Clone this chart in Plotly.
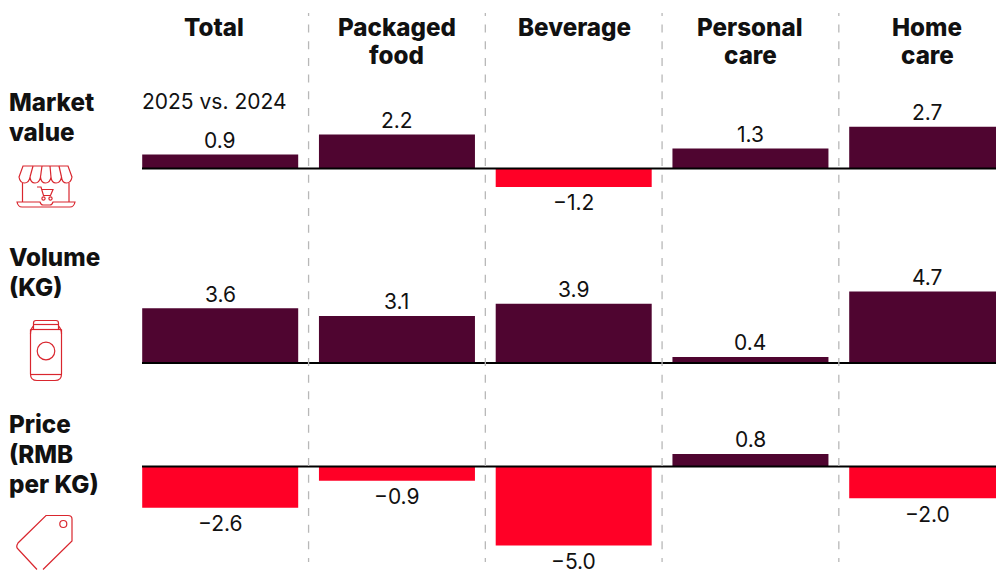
import plotly.graph_objects as go

W, H = 996, 570
categories = [["Total"], ["Packaged", "food"], ["Beverage"], ["Personal", "care"], ["Home", "care"]]
heading_shift = [-6, 0, 0.5, 0, 0]
metrics = [["Market", "value"], ["Volume", "(KG)"], ["Price", "(RMB", "per KG)"]]
market_value = [0.9, 2.2, -1.2, 1.3, 2.7]
volume = [3.6, 3.1, 3.9, 0.4, 4.7]
price = [-2.6, -0.9, -5.0, 0.8, -2.0]
subtitle = "2025 vs. 2024"

DARK, RED, INK = "#4f0530", "#ff0026", "#111111"
ICON = "#d9262e"
FONT = "Inter"
FIRST_CENTER, STEP, BAR_W = 220.2, 176.75, 156.0


def px(x):
    return x / W


def py(y):
    return 1 - y / H


def svg(d):
    """Turn an SVG path written in canvas pixels into paper units."""
    out, is_x = [], True
    for tok in d.split():
        if tok.isalpha():
            out.append(tok)
        else:
            out.append(f"{px(float(tok)) if is_x else py(float(tok)):.5f}")
            is_x = not is_x
    return " ".join(out)


def fmt(v):
    return f"{v:.1f}".replace("-", "\u2212")


# Each row: series, y axis, pixel band, baseline pixel, pixels per unit
rows = [
    (market_value, "y", 90, 232, 168.4, 15.4),
    (volume, "y2", 232, 400, 363, 15.2),
    (price, "y3", 400, 570, 466.6, 15.8),
]

fig = go.Figure()
layout_axes = {}
shapes = []
annotations = []
xs = list(range(len(categories)))
x_lo = (0 - FIRST_CENTER) / STEP
x_hi = (W - FIRST_CENTER) / STEP

for values, yid, top, bottom, base, scale in rows:
    fig.add_trace(go.Bar(
        x=xs, y=values, yaxis=yid, width=BAR_W / STEP,
        marker=dict(color=[DARK if v >= 0 else RED for v in values], line_width=0),
        showlegend=False, hoverinfo="skip",
    ))
    layout_axes["yaxis" + yid[1:]] = dict(
        domain=[py(bottom), py(top)],
        range=[(base - bottom) / scale, (base - top) / scale],
        visible=False, fixedrange=True, anchor="x",
    )
    shapes.append(dict(type="line", xref="x", yref=yid,
                       x0=(142 - FIRST_CENTER) / STEP, x1=x_hi, y0=0, y1=0,
                       line=dict(color="#000000", width=2), layer="above"))
    for x, v in zip(xs, values):
        annotations.append(dict(
            xref="x", yref=yid, x=x, y=v, text=fmt(v), showarrow=False,
            xanchor="center", yanchor="middle", yshift=14 if v >= 0 else -16,
            font=dict(family=FONT, size=21, color=INK),
        ))

# Dashed separators between the categories
dash_line = dict(color="#b8b8b8", width=1.3)
for i in range(4):
    x = px(FIRST_CENTER + STEP * (i + 0.5))
    shapes.append(dict(type="line", xref="paper", yref="paper", x0=x, x1=x,
                       y0=py(13), y1=py(16), line=dash_line))
    shapes.append(dict(type="line", xref="paper", yref="paper", x0=x, x1=x,
                       y0=py(24.6), y1=py(562),
                       line=dict(dash_line, dash="8px,8.67px")))

icon_line = dict(color=ICON, width=1.2)
icon_paths = [
    # Shop: awning
    "M 23 166 L 68 166 L 72 177 Q 71 183 66.5 183 Q 62 183 61.5 177 "
    "Q 60.5 183 56 183 Q 51.5 183 51 177 Q 50 183 45.5 183 Q 41 183 40.5 177 "
    "Q 39.5 183 35 183 Q 30.5 183 30 177 Q 29 183 24.5 183 Q 20 183 19 177 Z",
    "M 30 177 L 33 166",
    "M 40.5 177 L 42 166",
    "M 51 177 L 50 166",
    "M 61.5 177 L 59 166",
    # Shop: walls and counter
    "M 22.5 183 L 22.5 202",
    "M 69 183 L 69 202",
    "M 17 202 L 40 202 Q 41 205 43 205 L 50 205 Q 52 205 53 202 L 75 202 Q 74 207 70 207 L 22 207 Q 18 207 17 202 Z",
    # Shop: cart
    "M 37 187 L 41 187 L 43.5 195.5 L 50.5 195.5 L 53 189.5 L 42 189.5",
    # Can
    "M 33.5 329 L 33.5 323 Q 33.5 320.5 36 320.5 L 56 320.5 Q 58.5 320.5 58.5 323 L 58.5 329",
    "M 33.5 324.5 L 58.5 324.5",
    "M 30.5 334 Q 30.5 329 33.5 326 M 61.5 334 Q 61.5 329 58.5 326",
    "M 30.5 329.5 L 61.5 329.5",
    "M 30.5 329.5 L 30.5 374 Q 30.5 380.5 37 380.5 L 55 380.5 Q 61.5 380.5 61.5 374 L 61.5 329.5",
    "M 30.5 374.5 L 61.5 374.5",
    # Price tag
    "M 43 569.5 L 72 541 L 72 519 Q 72 515.5 68 515.5 L 46 515.5 L 18 543 Q 15.5 547 18 549 L 37 569.5",
]
for d in icon_paths:
    shapes.append(dict(type="path", xref="paper", yref="paper", path=svg(d), line=icon_line))
for cx, cy, r in [(43.5, 198.5, 1.6), (50.5, 198.5, 1.6), (46, 351, 8.8), (63.3, 524, 3.5)]:
    shapes.append(dict(type="circle", xref="paper", yref="paper",
                       x0=px(cx - r), x1=px(cx + r), y0=py(cy + r), y1=py(cy - r), line=icon_line))


def heading(x, y, text, anchor):
    annotations.append(dict(
        xref="paper", yref="paper", x=px(x), y=py(y), text=text, showarrow=False,
        xanchor=anchor, yanchor="middle", align=anchor,
        font=dict(family=FONT, size=24.2, color=INK, weight=800),
    ))


for i, lines in enumerate(categories):
    for j, line in enumerate(lines):
        heading(FIRST_CENTER + STEP * i + heading_shift[i], 27 + 29 * j, line, "center")
for lines, y in zip(metrics, [102, 257, 424]):
    for j, line in enumerate(lines):
        heading(7, y + 30 * j, line, "left")

annotations.append(dict(xref="paper", yref="paper", x=px(140), y=py(101), text=subtitle, showarrow=False,
                        xanchor="left", yanchor="middle", font=dict(family=FONT, size=21, color=INK)))

fig.update_layout(
    width=W, height=H, margin=dict(l=0, r=0, t=0, b=0, autoexpand=False),
    paper_bgcolor="#ffffff", plot_bgcolor="#ffffff", barmode="overlay",
    xaxis=dict(range=[x_lo, x_hi], visible=False, fixedrange=True, domain=[0, 1]),
    shapes=shapes, annotations=annotations, font=dict(family=FONT),
    **layout_axes,
)
fig.write_html("out.html", config={"displayModeBar": False})
